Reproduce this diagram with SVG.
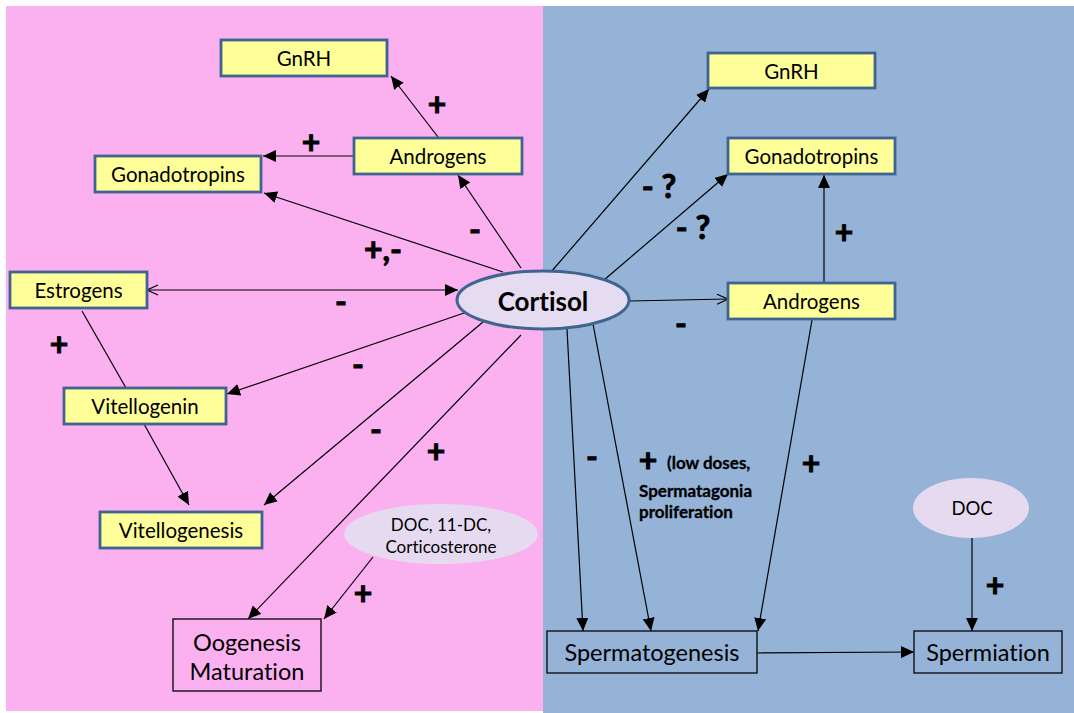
<svg xmlns="http://www.w3.org/2000/svg" width="1074" height="713" viewBox="0 0 1074 713">
  <style>
    text { font-variant-ligatures: none; }
    .box { fill: #FFFF99; stroke: #3F6491; stroke-width: 2.8; }
    .plain { stroke: #111; stroke-width: 1.4; }
    .lbl { font-family: Lato, "Liberation Sans", sans-serif; font-size: 20.5px; fill: #000; text-anchor: middle; dominant-baseline: central; }
    .big { font-size: 23.5px; }
    .sign { font-family: Lato, "Liberation Sans", sans-serif; font-size: 32px; font-weight: bold; fill: #000; stroke: #000; stroke-width: 0.9; text-anchor: middle; dominant-baseline: central; }
    .note { font-family: Lato, "Liberation Sans", sans-serif; font-size: 17px; font-weight: bold; fill: #000; stroke: #000; stroke-width: 0.3; }
    .conn line { stroke: #000; stroke-width: 1.2; fill: none; }
    .arr { marker-end: url(#tip); }
  </style>
  <defs>
    <marker id="tip" markerUnits="userSpaceOnUse" markerWidth="14" markerHeight="12" refX="13" refY="6" orient="auto">
      <path d="M0,0 L13,6 L0,12 z" fill="#000"/>
    </marker>
    <marker id="open" markerUnits="userSpaceOnUse" markerWidth="14" markerHeight="12" refX="12" refY="6" orient="auto-start-reverse">
      <path d="M1,1 L12,6 L1,11" fill="none" stroke="#000" stroke-width="1.2"/>
    </marker>
  </defs>

  <!-- background panels -->
  <rect x="0" y="0" width="1074" height="713" fill="#FFFFFF"/>
  <rect x="6" y="6" width="537" height="705" fill="#FBB0F0"/>
  <rect x="543" y="6" width="531" height="707" fill="#95B3D7"/>

  <!-- connectors -->
  <g id="connectors" class="conn">
    <line class="arr" x1="438" y1="137" x2="391" y2="76"/>
    <line class="arr" x1="353" y1="156" x2="263" y2="156"/>
    <line class="arr" x1="503" y1="272" x2="264" y2="193"/>
    <line class="arr" x1="521" y1="268" x2="458" y2="175"/>
    <line x1="147" y1="290" x2="458" y2="290" marker-start="url(#open)" marker-end="url(#tip)"/>
    <line x1="82" y1="311" x2="126" y2="388"/>
    <line class="arr" x1="144" y1="424" x2="189" y2="505"/>
    <line class="arr" x1="467" y1="312" x2="227" y2="394"/>
    <line class="arr" x1="483" y1="322" x2="264" y2="505"/>
    <line class="arr" x1="521" y1="335" x2="248" y2="619"/>
    <line class="arr" x1="373" y1="557" x2="324" y2="619"/>

    <line class="arr" x1="551" y1="272" x2="709" y2="89"/>
    <line class="arr" x1="604" y1="280" x2="728" y2="174"/>
    <line x1="629" y1="301" x2="728" y2="299" marker-end="url(#open)"/>
    <line class="arr" x1="824" y1="283" x2="824" y2="175"/>
    <line class="arr" x1="567" y1="329" x2="583" y2="631"/>
    <line class="arr" x1="593" y1="324" x2="651" y2="631"/>
    <line class="arr" x1="812" y1="320" x2="758" y2="631"/>
    <line class="arr" x1="757" y1="653" x2="914" y2="652"/>
    <line class="arr" x1="972" y1="538" x2="972" y2="631"/>
  </g>

  <!-- connector labels -->
  <g id="labels">
    <text class="sign" x="437" y="103">+</text>
    <text class="sign" x="311" y="141">+</text>
    <text class="sign" x="383" y="248">+,-</text>
    <text class="sign" x="475" y="228">-</text>
    <text class="sign" x="341" y="300">-</text>
    <text class="sign" x="59" y="343">+</text>
    <text class="sign" x="358" y="363">-</text>
    <text class="sign" x="376" y="428">-</text>
    <text class="sign" x="436" y="450">+</text>
    <text class="sign" x="363" y="592">+</text>
    <text class="sign" x="659" y="185">- ?</text>
    <text class="sign" x="693" y="226">- ?</text>
    <text class="sign" x="844" y="231">+</text>
    <text class="sign" x="681" y="322">-</text>
    <text class="sign" x="592" y="455">-</text>
    <text class="sign" x="648" y="459">+</text>
    <text class="note" x="667" y="469">(low doses,</text>
    <text class="note" x="639" y="497">Spermatagonia</text>
    <text class="note" x="639" y="518">proliferation</text>
    <text class="sign" x="811" y="462">+</text>
    <text class="sign" x="995" y="584">+</text>
  </g>

  <!-- female side -->
  <g id="gnrh-f">
    <rect class="box" x="221" y="40" width="166" height="36"/>
    <text class="lbl" x="304" y="58">GnRH</text>
  </g>
  <g id="androgens-f">
    <rect class="box" x="354" y="138" width="168" height="36"/>
    <text class="lbl" x="438" y="156">Androgens</text>
  </g>
  <g id="gonadotropins-f">
    <rect class="box" x="95" y="156" width="166" height="36"/>
    <text class="lbl" x="178" y="174">Gonadotropins</text>
  </g>
  <g id="estrogens">
    <rect class="box" x="10" y="272" width="137" height="36"/>
    <text class="lbl" x="78.5" y="290">Estrogens</text>
  </g>
  <g id="vitellogenin">
    <rect class="box" x="64" y="388" width="162" height="36"/>
    <text class="lbl" x="145" y="406">Vitellogenin</text>
  </g>
  <g id="vitellogenesis">
    <rect class="box" x="100" y="512" width="162" height="36"/>
    <text class="lbl" x="181" y="530">Vitellogenesis</text>
  </g>
  <g id="doc-corticosterone">
    <ellipse cx="441" cy="534" rx="97" ry="30" fill="#E6DAF0"/>
    <text class="lbl" x="441" y="524" style="font-size:17px">DOC, 11-DC,</text>
    <text class="lbl" x="441" y="546" style="font-size:17px">Corticosterone</text>
  </g>
  <g id="oogenesis">
    <rect class="plain" x="173" y="619" width="148" height="72" fill="#FBB0F0"/>
    <text class="lbl big" x="247" y="642">Oogenesis</text>
    <text class="lbl big" x="247" y="671">Maturation</text>
  </g>

  <!-- central node -->
  <g id="cortisol">
    <ellipse cx="543" cy="300" rx="86" ry="29" fill="#E6DCF2" stroke="#41648F" stroke-width="3"/>
    <text class="lbl" x="543" y="301" style="font-size:26px;font-weight:bold">Cortisol</text>
  </g>

  <!-- male side -->
  <g id="gnrh-m">
    <rect class="box" x="708" y="53" width="167" height="35"/>
    <text class="lbl" x="791.5" y="71">GnRH</text>
  </g>
  <g id="gonadotropins-m">
    <rect class="box" x="728" y="138" width="167" height="36"/>
    <text class="lbl" x="811.5" y="156">Gonadotropins</text>
  </g>
  <g id="androgens-m">
    <rect class="box" x="728" y="283" width="167" height="36"/>
    <text class="lbl" x="811.5" y="301">Androgens</text>
  </g>
  <g id="doc">
    <ellipse cx="971" cy="508" rx="58" ry="30" fill="#E6DAF0"/>
    <text class="lbl" x="972" y="508" style="font-size:18.5px">DOC</text>
  </g>
  <g id="spermatogenesis">
    <rect class="plain" x="547" y="631" width="210" height="42" fill="#95B3D7"/>
    <text class="lbl big" x="652" y="652">Spermatogenesis</text>
  </g>
  <g id="spermiation">
    <rect class="plain" x="914" y="631" width="148" height="42" fill="#95B3D7"/>
    <text class="lbl big" x="988" y="652">Spermiation</text>
  </g>
</svg>
